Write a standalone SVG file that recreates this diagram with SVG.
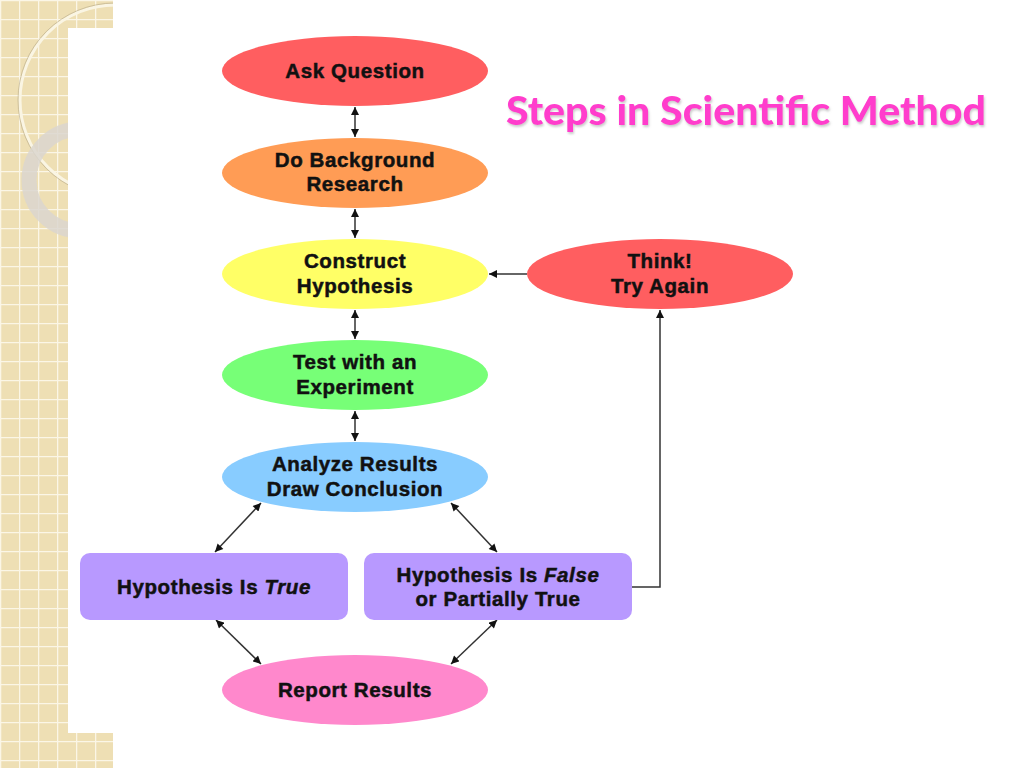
<svg xmlns="http://www.w3.org/2000/svg" width="1024" height="768" viewBox="0 0 1024 768">
<style>
.lbl{font-family:"Liberation Sans",Arial,sans-serif;font-weight:bold;font-size:20.5px;letter-spacing:0.6px;fill:#111;stroke:#111;stroke-width:0.5;text-anchor:middle}
.conn{stroke:#333;stroke-width:1.5;fill:none}
.title{font-family:Lato,"Open Sans",sans-serif;font-weight:900;font-size:40px;fill:#ff3dcc}
</style>
<defs>
<pattern id="grid" width="19" height="19" patternUnits="userSpaceOnUse">
<rect width="19" height="19" fill="#eedfb4"/>
<path d="M0 0.5H19M0.5 0V19" stroke="#fbf6e6" stroke-width="1.6"/>
</pattern>
<marker id="ah" viewBox="0 0 10 10" refX="10" refY="5" markerWidth="9" markerHeight="8" markerUnits="userSpaceOnUse" orient="auto-start-reverse">
<path d="M0 0L10 5L0 10z" fill="#111"/>
</marker>
<filter id="sh" x="-5%" y="-20%" width="110%" height="140%">
<feDropShadow dx="1" dy="2" stdDeviation="1" flood-color="#999" flood-opacity="0.5"/>
</filter>
</defs>
<g id="background">
<rect width="1024" height="768" fill="url(#grid)"/>
<circle cx="115" cy="100" r="95" fill="none" stroke="#faf5e3" stroke-width="3"/>
<circle cx="115" cy="100" r="97" fill="none" stroke="#b8aa88" stroke-width="1" opacity="0.6"/>
<circle cx="80" cy="180" r="51" fill="none" stroke="#dad6cf" stroke-width="15" opacity="0.85"/>
<rect x="113" y="0" width="911" height="768" fill="#fff"/>
<rect x="68" y="28" width="956" height="705" fill="#fff"/>
</g>
<text class="title" x="506" y="125" textLength="480" lengthAdjust="spacingAndGlyphs" filter="url(#sh)">Steps in Scientific Method</text>
<g id="connectors">
<line class="conn" x1="355" y1="107" x2="355" y2="137" marker-start="url(#ah)" marker-end="url(#ah)"/>
<line class="conn" x1="355" y1="209" x2="355" y2="238" marker-start="url(#ah)" marker-end="url(#ah)"/>
<line class="conn" x1="355" y1="310" x2="355" y2="339" marker-start="url(#ah)" marker-end="url(#ah)"/>
<line class="conn" x1="355" y1="411" x2="355" y2="441" marker-start="url(#ah)" marker-end="url(#ah)"/>
<line class="conn" x1="261" y1="503" x2="215" y2="552" marker-start="url(#ah)" marker-end="url(#ah)"/>
<line class="conn" x1="451" y1="503" x2="497" y2="552" marker-start="url(#ah)" marker-end="url(#ah)"/>
<line class="conn" x1="216" y1="620" x2="261" y2="664" marker-start="url(#ah)" marker-end="url(#ah)"/>
<line class="conn" x1="497" y1="620" x2="451" y2="664" marker-start="url(#ah)" marker-end="url(#ah)"/>
<line class="conn" x1="527" y1="274" x2="489" y2="274" marker-end="url(#ah)"/>
<polyline class="conn" points="632,587 660,587 660,310" marker-end="url(#ah)"/>
</g>
<g id="ask">
<ellipse cx="355" cy="71" rx="133" ry="35" fill="#ff5e60"/>
<text class="lbl" x="355" y="78">Ask Question</text>
</g>
<g id="research">
<ellipse cx="355" cy="173" rx="133" ry="35" fill="#ff9c55"/>
<text class="lbl" x="355" y="167">Do Background</text>
<text class="lbl" x="355" y="191">Research</text>
</g>
<g id="hypothesis">
<ellipse cx="355" cy="274" rx="133" ry="35" fill="#ffff66"/>
<text class="lbl" x="355" y="268">Construct</text>
<text class="lbl" x="355" y="293">Hypothesis</text>
</g>
<g id="think">
<ellipse cx="660" cy="274" rx="133" ry="35" fill="#ff5e60"/>
<text class="lbl" x="660" y="268">Think!</text>
<text class="lbl" x="660" y="293">Try Again</text>
</g>
<g id="experiment">
<ellipse cx="355" cy="375" rx="133" ry="35" fill="#77ff77"/>
<text class="lbl" x="355" y="369">Test with an</text>
<text class="lbl" x="355" y="394">Experiment</text>
</g>
<g id="analyze">
<ellipse cx="355" cy="477" rx="133" ry="35" fill="#88ccff"/>
<text class="lbl" x="355" y="471">Analyze Results</text>
<text class="lbl" x="355" y="496">Draw Conclusion</text>
</g>
<g id="true">
<rect x="80" y="553" width="268" height="67" rx="10" fill="#b899ff"/>
<text class="lbl" x="214" y="594">Hypothesis Is <tspan font-style="italic">True</tspan></text>
</g>
<g id="false">
<rect x="364" y="553" width="268" height="67" rx="10" fill="#b899ff"/>
<text class="lbl" x="498" y="582">Hypothesis Is <tspan font-style="italic">False</tspan></text>
<text class="lbl" x="498" y="606">or Partially True</text>
</g>
<g id="report">
<ellipse cx="355" cy="690" rx="133" ry="35" fill="#ff88cc"/>
<text class="lbl" x="355" y="697">Report Results</text>
</g>
</svg>
